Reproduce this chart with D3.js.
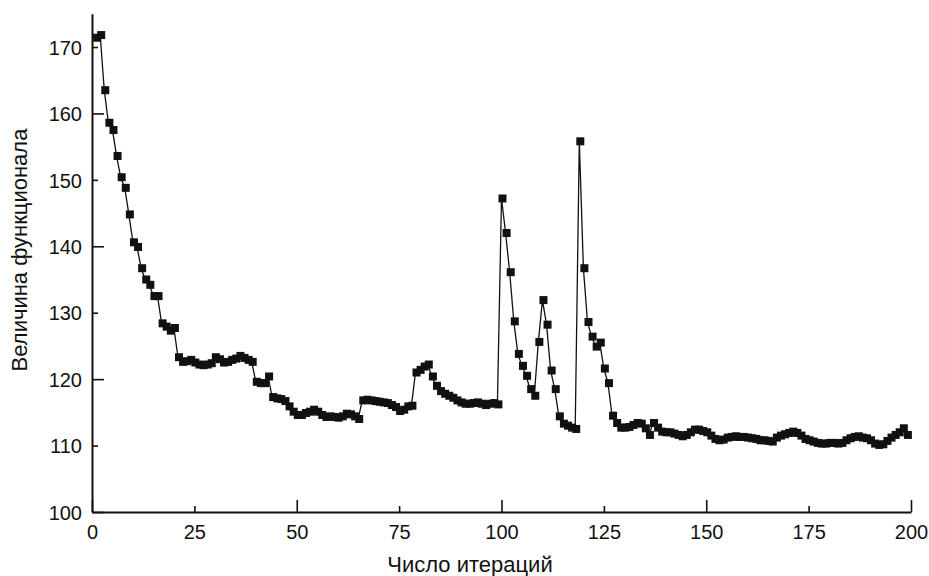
<!DOCTYPE html>
<html>
<head>
<meta charset="utf-8">
<script src="https://cdn.jsdelivr.net/npm/d3@7"></script>
<style>
  body { margin: 0; background: #fff; }
  svg { display: block; }
  .tick text { font-family: "Liberation Sans", Arial, sans-serif; font-size: 20px; fill: #111; }
  .lbl { font-family: "Liberation Sans", Arial, sans-serif; font-size: 22px; fill: #111; }
</style>
</head>
<body>
<svg id="chart" width="929" height="576"></svg>
<script>
// values, iteration 1..199
const values = [
  171.4, 171.8, 163.5, 158.6, 157.5, 153.6, 150.4, 148.8, 144.8, 140.6,
  139.9, 136.7, 135.0, 134.2, 132.5, 132.5, 128.4, 127.9, 127.3, 127.7,
  123.3, 122.6, 122.7, 122.9, 122.5, 122.2, 122.1, 122.2, 122.4, 123.3,
  123.0, 122.5, 122.6, 122.9, 123.1, 123.5, 123.2, 122.9, 122.6, 119.6,
  119.4, 119.4, 120.4, 117.3, 117.1, 117.0, 116.7, 115.9, 115.1, 114.6,
  114.6, 114.9, 115.1, 115.4, 115.1, 114.6, 114.3, 114.4, 114.3, 114.2,
  114.4, 114.8, 114.7, 114.4, 114.0, 116.8, 116.9, 116.8, 116.7, 116.6,
  116.5, 116.4, 116.1, 115.8, 115.2, 115.4, 115.9, 116.0, 121.0, 121.4,
  121.9, 122.2, 120.4, 119.0, 118.2, 117.8, 117.5, 117.2, 116.8, 116.5,
  116.3, 116.3, 116.4, 116.5, 116.3, 116.1, 116.3, 116.4, 116.2, 147.2,
  142.0, 136.1, 128.7, 123.8, 122.0, 120.5, 118.5, 117.5, 125.6, 131.9,
  128.2, 121.3, 118.5, 114.4, 113.3, 113.0, 112.7, 112.5, 155.8, 136.7,
  128.6, 126.4, 124.9, 125.5, 121.6, 119.4, 114.5, 113.4, 112.7, 112.7,
  112.8, 113.1, 113.4, 113.3, 112.6, 111.6, 113.4, 112.7, 112.1, 112.0,
  112.0, 111.8, 111.6, 111.4, 111.6, 112.0, 112.4, 112.4, 112.2, 112.0,
  111.5, 111.0, 110.8, 110.9, 111.2, 111.3, 111.4, 111.3, 111.3, 111.2,
  111.1, 111.0, 110.8, 110.8, 110.7, 110.6, 111.2, 111.5, 111.7, 111.9,
  112.1, 111.9, 111.5, 111.0, 110.8, 110.6, 110.4, 110.3, 110.3, 110.4,
  110.4, 110.3, 110.4, 110.8, 111.1, 111.3, 111.4, 111.2, 111.1, 110.8,
  110.3, 110.1, 110.2, 110.7, 111.2, 111.6, 112.0, 112.6, 111.6
];
const xTicks = [0, 25, 50, 75, 100, 125, 150, 175, 200];
const yTicks = [100, 110, 120, 130, 140, 150, 160, 170];
const xTitle = 'Число итераций';
const yTitle = 'Величина функционала';

const data = values.map((v, i) => ({ it: i + 1, v }));

const svg = d3.select('#chart');
const x = d3.scaleLinear().domain([0, 200]).range([92, 911]);
const y = d3.scaleLinear().domain([100, 175]).range([512, 13.8]);

const gx = svg.append('g').attr('transform', `translate(0,${y(100)})`)
  .call(d3.axisBottom(x).tickValues(xTicks).tickSizeOuter(0).tickSizeInner(0).tickPadding(9));
gx.select('.domain').attr('stroke', '#111').attr('stroke-width', 2);
gx.selectAll('.tick line').attr('stroke', '#111').attr('stroke-width', 1.6)
  .attr('y2', (d) => (d % 50 === 0 ? -12 : -6));
gx.selectAll('.tick text').attr('dy', '0.9em');

const gy = svg.append('g').attr('transform', `translate(${x(0)},0)`)
  .call(d3.axisLeft(y).tickValues(yTicks).tickSizeOuter(0).tickSizeInner(0).tickPadding(10));
gy.select('.domain').attr('stroke', '#111').attr('stroke-width', 2);
gy.selectAll('.tick line').attr('stroke', '#111').attr('stroke-width', 1.6)
  .attr('x2', (d) => (d % 20 === 0 ? 12 : 6));
gy.selectAll('.tick text').attr('dy', '0.36em');

svg.append('path').datum(data)
  .attr('fill', 'none').attr('stroke', '#111').attr('stroke-width', 1.3)
  .attr('d', d3.line().x((d) => x(d.it)).y((d) => y(d.v)));

const s = 8;
svg.append('g').selectAll('rect').data(data).join('rect')
  .attr('x', (d) => x(d.it) - s / 2 + 1).attr('y', (d) => y(d.v) - s / 2)
  .attr('width', s).attr('height', s).attr('fill', '#111');

svg.append('text').attr('class', 'lbl').attr('x', 470).attr('y', 572)
  .attr('text-anchor', 'middle').text(xTitle);
svg.append('text').attr('class', 'lbl')
  .attr('transform', 'translate(27,250) rotate(-90)')
  .attr('text-anchor', 'middle').text(yTitle);
</script>
</body>
</html>
